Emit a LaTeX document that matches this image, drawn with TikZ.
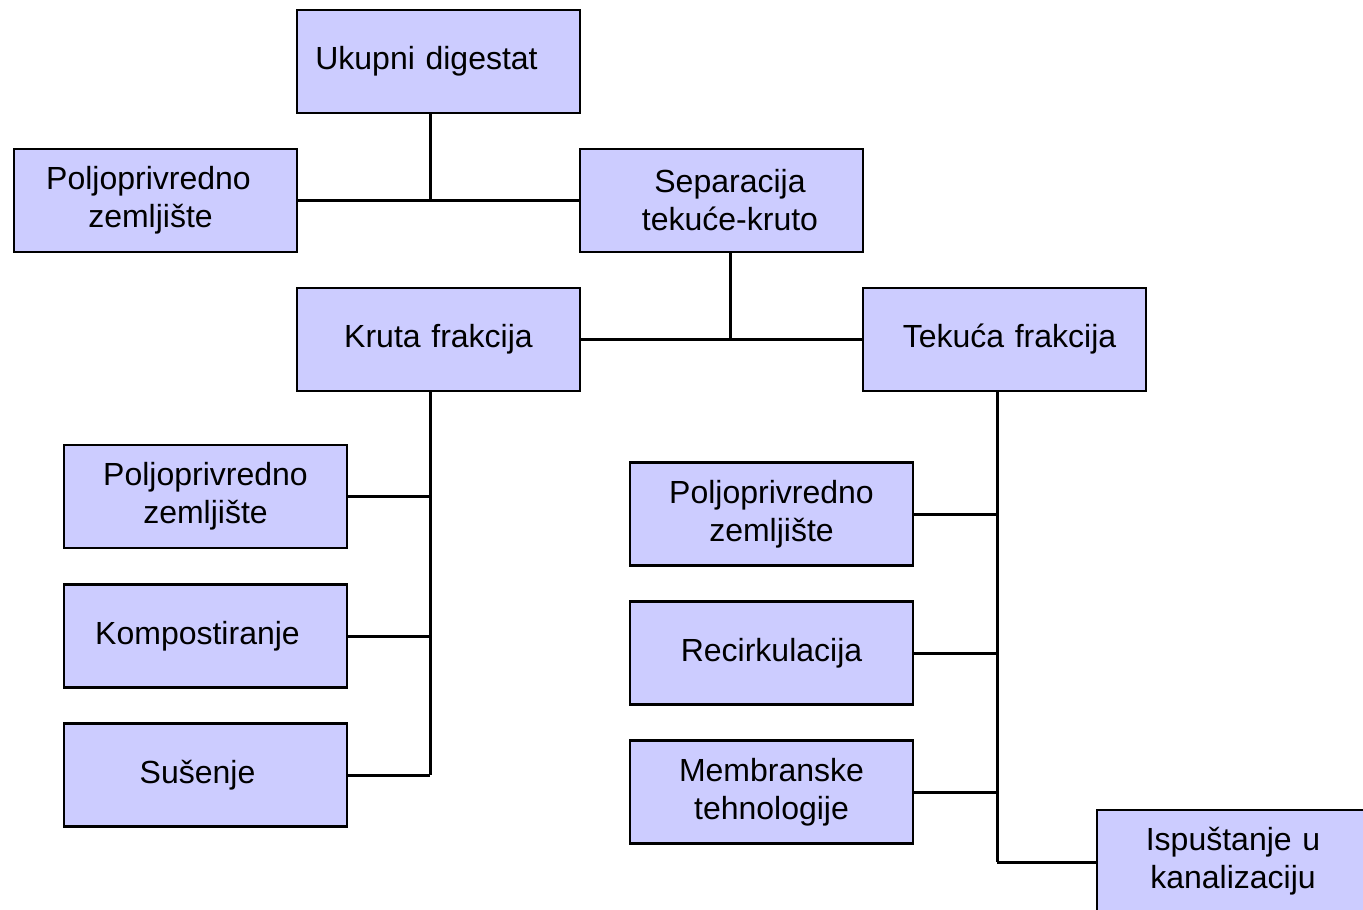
\documentclass[tikz,border=0pt]{standalone}
\usepackage{fontspec}
\setmainfont{Liberation Sans}
\definecolor{boxfill}{HTML}{CCCCFF}
\begin{document}
\begin{tikzpicture}[x=1pt,y=-1pt,
  box/.style={draw=black,line width=2.4pt,fill=boxfill,minimum width=283pt,minimum height=103pt,
    inner sep=0pt,align=center,text width=280pt,font=\fontsize{32}{38}\selectfont},
  conn/.style={draw=black,line width=3pt}]
\useasboundingbox (0,0) rectangle (1363,910);
\begin{scope}
\clip (0,0) rectangle (1363,910);
\node[box] (ud) at (438.5,61.5) {\raisebox{2pt}{\hspace*{-24pt}Ukupni digestat}};
\node[box] (pz1) at (155.5,200.5) {\hspace*{-14pt}Poljoprivredno\\\hspace*{-10pt}zemljište};
\node[box] (sep) at (721.5,200.5) {\hspace*{17pt}Separacija\\\hspace*{17pt}tekuće-kruto};
\node[box] (kf) at (438.5,339.5) {\raisebox{2pt}{Kruta frakcija}};
\node[box] (tf) at (1004.5,339.5) {\raisebox{2pt}{\hspace*{10pt}Tekuća frakcija}};
\node[box] (pz2) at (205.5,496.5) {Poljoprivredno\\zemljište};
\node[box] (kom) at (205.5,636) {\raisebox{2pt}{\hspace*{-16pt}Kompostiranje}};
\node[box] (sus) at (205.5,775) {\raisebox{2pt}{\hspace*{-16pt}Sušenje}};
\node[box] (pz3) at (771.5,514) {Poljoprivredno\\zemljište};
\node[box] (rec) at (771.5,653) {\raisebox{2pt}{Recirkulacija}};
\node[box] (mem) at (771.5,792) {Membranske\\tehnologije};
\node[box,minimum width=272pt,text width=268pt] (isp) at (1233,861.5) {Ispuštanje u\\kanalizaciju};
\end{scope}
\coordinate (j1) at (430,200.5);
\coordinate (j2) at (730,339.5);
\coordinate (j3) at (430,775);
\coordinate (j4) at (997,862);
\draw[conn] (ud.south -| j1) -- (j1);
\draw[conn] (pz1.east) -- (sep.west);
\draw[conn] (sep.south -| j2) -- (j2);
\draw[conn] (kf.east) -- (tf.west);
\draw[conn] (kf.south -| j3) -- (j3);
\draw[conn] (pz2.east) -- (pz2.east -| j3);
\draw[conn] (kom.east) -- (kom.east -| j3);
\draw[conn] (sus.east) -- (j3);
\draw[conn] (tf.south -| j4) -- (j4);
\draw[conn] (pz3.east) -- (pz3.east -| j4);
\draw[conn] (rec.east) -- (rec.east -| j4);
\draw[conn] (mem.east) -- (mem.east -| j4);
\draw[conn] (j4) -- (j4 -| isp.west);
\end{tikzpicture}
\end{document}
